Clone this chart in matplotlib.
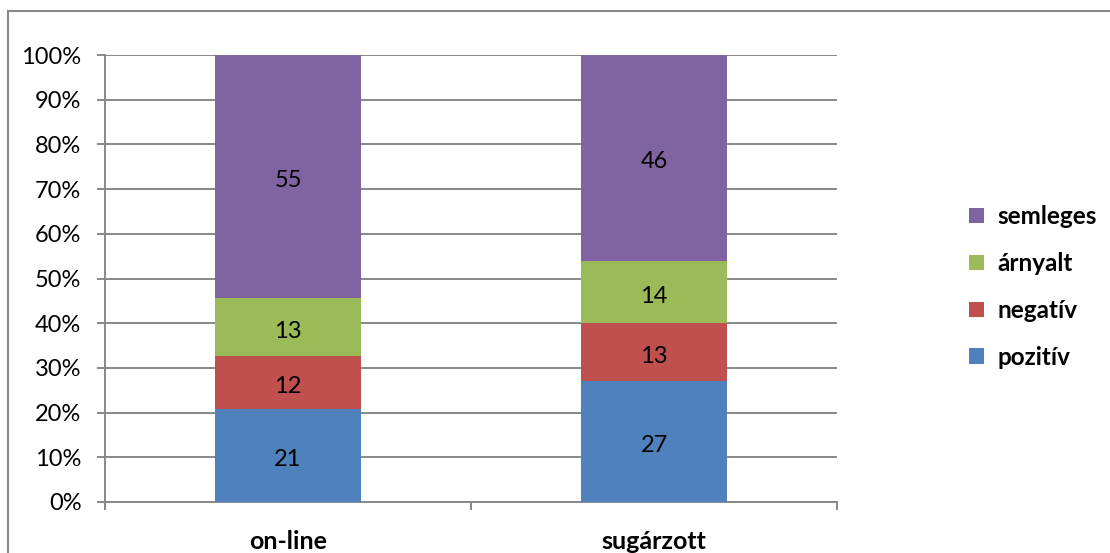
import matplotlib
matplotlib.use("Agg")
import matplotlib.pyplot as plt
from matplotlib.lines import Line2D
from matplotlib.patches import Patch
import numpy as np

categories = ["on-line", "sugárzott"]
series_names = ["pozitív", "negatív", "árnyalt", "semleges"]
pozitiv = [21, 27]
negativ = [12, 13]
arnyalt = [13, 14]
semleges = [55, 46]
colors = ["#4F81BD", "#C0504D", "#9BBB59", "#8064A2"]
ytick_labels = ["0%", "10%", "20%", "30%", "40%", "50%", "60%", "70%", "80%", "90%", "100%"]

plt.rcParams['font.family'] = ['Lato', 'DejaVu Sans']
grid_c = "#888888"

fig = plt.figure(figsize=(11.1, 5.53), dpi=100)
ax = fig.add_axes([105/1110, 1-502/553, (837-105)/1110, (502-55)/553])

data = np.array([pozitiv, negativ, arnyalt, semleges], dtype=float)
totals = data.sum(axis=0)
pct = data / totals * 100
x = np.arange(len(categories))
bottom = np.zeros(len(categories))
for i, name in enumerate(series_names):
    bars = ax.bar(x, pct[i], 0.4, bottom=bottom, color=colors[i], label=name, zorder=3)
    for j, b in enumerate(bars):
        ax.annotate(f"{int(data[i][j])}", (x[j], bottom[j] + pct[i][j] / 2),
                    xytext=(0, -3), textcoords="offset points",
                    ha="center", va="center", fontsize=17, color="black", zorder=4)
    bottom += pct[i]

ax.set_xlim(-0.5, 1.5)
ax.set_ylim(0, 100)
ax.set_yticks(np.arange(0, 101, 10))
ax.set_yticklabels(ytick_labels, fontsize=17)
ax.yaxis.grid(True, color=grid_c, linewidth=1.4, zorder=0)
ax.set_xticks([-0.5, 0.5, 1.5], minor=False)
ax.set_xticklabels([])
ax.set_xticks([0, 1], minor=True)
ax.set_xticklabels(categories, minor=True, fontsize=18, fontweight="bold")
ax.tick_params(axis="x", which="minor", length=0, pad=20)
ax.tick_params(axis="x", which="major", length=6, color=grid_c, width=1.4)
ax.tick_params(axis="y", length=6, color=grid_c, width=1.4, pad=11)
for s in ["top", "right"]:
    ax.spines[s].set_visible(False)
for s in ["left", "bottom"]:
    ax.spines[s].set_color(grid_c)
    ax.spines[s].set_linewidth(1.4)

handles = [Patch(facecolor=colors[i], label=series_names[i]) for i in range(4)][::-1]
leg = fig.legend(handles=handles, loc="center left", bbox_to_anchor=(957/1110, 1-287/553),
                 frameon=False, prop={"size": 17.5, "weight": "bold"},
                 handlelength=0.6, handleheight=0.6, labelspacing=0.98, handletextpad=0.55,
                 borderpad=0)

# outer chart border (top and left visible)
fig.add_artist(Line2D([8/1110, 8/1110], [0, 1-11/553], color=grid_c, linewidth=1.5))
fig.add_artist(Line2D([8/1110, 1], [1-11/553, 1-11/553], color=grid_c, linewidth=1.5))

fig.savefig("out.png", dpi=100)
